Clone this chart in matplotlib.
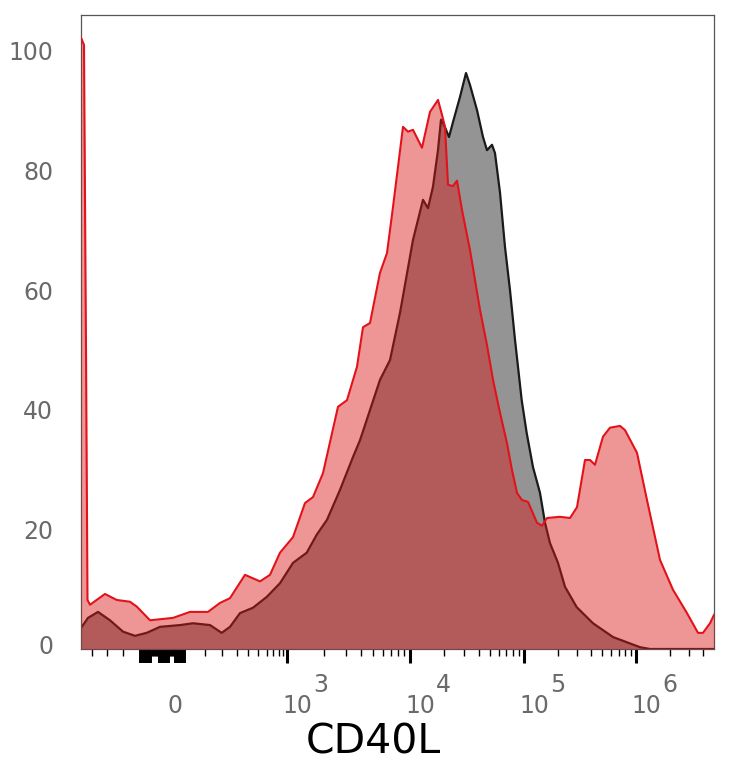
import numpy as np
import matplotlib
matplotlib.use("Agg")
import matplotlib.pyplot as plt
from matplotlib.transforms import ScaledTranslation

# ---------------- data (display channel, % of max) ----------------
red_channel = [0, 3, 5, 6.5, 9, 24, 35.7, 49, 55.7, 69, 92, 109, 127, 139, 149, 164, 179, 189,
               199, 212, 224, 232, 242, 257, 266, 276, 282, 289, 299, 306, 312, 322, 327, 332,
               341, 349, 357, 361, 364, 367, 372, 376, 381, 389, 399, 406, 412, 419, 426, 431,
               436, 441, 447, 456, 461, 466, 479, 489, 496, 504, 509, 514, 522, 529, 539, 544,
               556, 566, 579, 592, 606, 617, 622, 629, 633]
red_values = [102.2, 101.0, 50.0, 8.2, 7.4, 9.2, 8.2, 7.9, 7.1, 4.8, 5.2, 6.2, 6.2, 7.7, 8.5,
              12.4, 11.3, 12.4, 16.1, 18.7, 24.4, 25.4, 29.4, 40.5, 41.6, 47.2, 53.8, 54.5,
              62.9, 66.2, 73.9, 87.3, 86.5, 86.8, 83.8, 89.8, 91.8, 89.3, 87.3, 77.6, 77.4,
              78.3, 73.4, 66.7, 56.7, 50.8, 45.0, 39.5, 34.4, 29.9, 26.1, 24.9, 24.6, 21.1,
              20.6, 21.9, 22.1, 21.9, 23.7, 31.6, 31.6, 30.8, 35.5, 37.0, 37.3, 36.6, 32.8,
              24.9, 14.9, 9.9, 6.0, 2.7, 2.7, 4.3, 5.7]

black_channel = [0, 7, 17, 29, 42, 54, 65.7, 79, 99, 112, 129, 140.7, 149, 159, 172, 185.7, 199,
                 212, 225.7, 235.7, 246, 259, 272, 279, 299, 309, 319, 332, 342, 347, 352, 357,
                 360, 363, 368, 372, 379, 385, 389, 396, 402, 406, 411, 414, 419, 424, 429, 434,
                 440.7, 445.7, 452, 459, 464, 469, 477, 484, 495.7, 512, 532, 559, 569, 633]
black_values = [3.5, 5.2, 6.2, 4.8, 2.9, 2.2, 2.7, 3.7, 4.0, 4.3, 4.0, 2.7, 3.7, 6.0, 6.9, 8.7,
                11.0, 14.4, 16.1, 19.1, 21.6, 26.6, 32.1, 34.9, 45.0, 48.3, 56.2, 68.4, 75.1,
                73.7, 77.3, 83.4, 88.5, 87.6, 85.6, 88.1, 92.3, 96.3, 94.3, 90.1, 85.6, 83.4,
                84.3, 82.9, 76.3, 67.2, 60.0, 51.7, 41.6, 36.1, 30.4, 26.1, 21.1, 17.7, 14.4,
                10.4, 7.0, 4.3, 2.0, 0.3, 0.0, 0.0]

y_ticks = [0, 20, 40, 60, 80, 100]
x_label = "CD40L"
decade_exponents = ["3", "4", "5", "6"]

# ---------------- layout / axis geometry (display channels) ----------------
X_MAX = 633
Y_MAX = 106.0
zero_pos = 94
decade_pos = [206, 329, 443, 555]
low_minor = [10.7, 25.7, 42.3, 124, 140.7, 155.7, 167, 177, 185.7, 192, 198, 202]

fig = plt.figure(figsize=(7.34, 7.68), dpi=100)
ax = fig.add_axes([81 / 734, (768 - 649) / 768, 633 / 734, 634 / 768])

gray_fill = (148 / 255, 148 / 255, 148 / 255)
red_fill = (218 / 255, 24 / 255, 24 / 255)

ax.fill_between(black_channel, black_values, 0, color=gray_fill, lw=0, zorder=1)
ax.plot(black_channel, black_values, color="#1a1a1a", lw=1.6, zorder=2)
ax.fill_between(red_channel, red_values, 0, color=red_fill, alpha=0.455, lw=0, zorder=3)
ax.plot(red_channel, red_values, color="#e3121a", lw=1.5, zorder=4)

ax.set_xlim(0, X_MAX)
ax.set_ylim(0, Y_MAX)

for s in ax.spines.values():
    s.set_color("#555555")
    s.set_linewidth(0.9)

# y axis: labels only
ax.set_yticks(y_ticks)
ax.set_yticklabels([str(v) for v in y_ticks], fontsize=17, color="#6a6a6a",
                   family="DejaVu Sans")
ax.tick_params(axis="y", length=0, pad=20)
lab0 = ax.yaxis.get_major_ticks()[0].label1
lab0.set_transform(lab0.get_transform() + ScaledTranslation(0, 4 / 100, fig.dpi_scale_trans))

# x axis: biexponential-like ticks
minor = list(low_minor)
decade_w = [decade_pos[i + 1] - decade_pos[i] for i in range(3)] + [112]
for i, p in enumerate(decade_pos):
    for k in range(2, 10):
        m = p + decade_w[i] * np.log10(k)
        if m < X_MAX:
            minor.append(m)
# dense zero-region ticks
cluster_short = list(np.arange(59, 104.5, 1.0))
cluster_long = [c for c in cluster_short if (59 <= c <= 70) or (78 <= c <= 88) or (94 <= c <= 104)]

ax.set_xticks(decade_pos + cluster_long)
ax.set_xticklabels([])
ax.set_xticks(minor + cluster_short, minor=True)
ax.tick_params(axis="x", which="major", length=10, width=2.2, color="black", direction="out")
ax.tick_params(axis="x", which="minor", length=5, width=1.0, color="black", direction="out")
for t in ax.xaxis.get_major_ticks()[len(decade_pos):]:
    t.tick1line.set_markeredgewidth(1.4)

lab_kw = dict(fontsize=17, color="#6a6a6a", family="DejaVu Sans")
ax.annotate("0", xy=(zero_pos, 0), xycoords=("data", "axes fraction"),
            xytext=(0, -46), textcoords="offset points", ha="center", va="baseline", **lab_kw)
for p, e in zip(decade_pos, decade_exponents):
    ax.annotate("10", xy=(p, 0), xycoords=("data", "axes fraction"),
                xytext=(-3.2, -46), textcoords="offset points", ha="left", va="baseline", **lab_kw)
    ax.annotate(e, xy=(p, 0), xycoords=("data", "axes fraction"),
                xytext=(18.7, -31), textcoords="offset points", ha="left", va="baseline", **lab_kw)

fig.text(373 / 734, (768 - 753) / 768, x_label, ha="center", va="baseline",
         fontsize=29.5, color="black", family="DejaVu Sans")

fig.savefig("out.png", dpi=100)
